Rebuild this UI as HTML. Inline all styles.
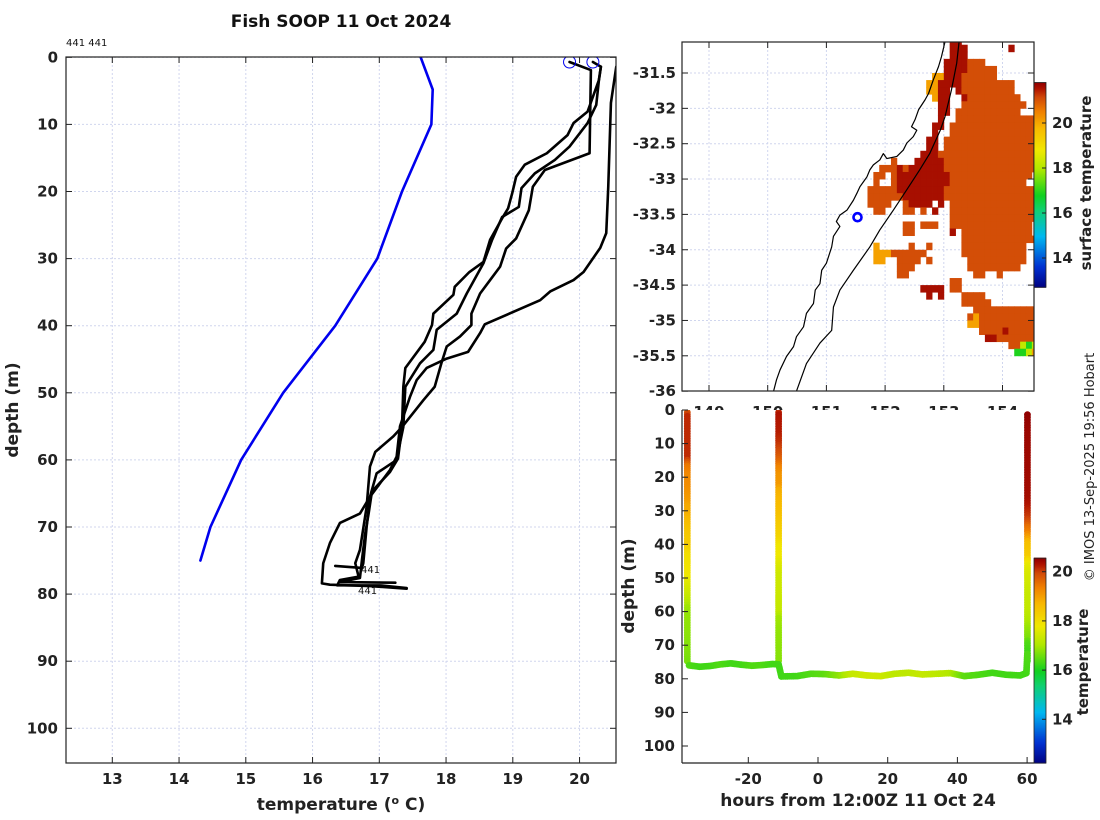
<!DOCTYPE html>
<html><head><meta charset="utf-8"><style>
body{margin:0;background:#fff;}
svg{display:block;font-family:"DejaVu Sans","Liberation Sans",sans-serif;}
.tk{font-size:15px;font-weight:bold;fill:#222;}
.lab{font-size:17px;font-weight:bold;fill:#222;}
</style></head><body>
<svg id="fig" width="1100" height="820" viewBox="0 0 1100 820" xmlns="http://www.w3.org/2000/svg">
<defs>
<clipPath id="clipL"><rect x="66" y="57" width="550" height="706"/></clipPath>
<clipPath id="clipM"><rect x="682" y="42" width="352" height="349"/></clipPath>
<clipPath id="clipB"><rect x="682" y="410" width="352" height="353"/></clipPath>
</defs>
<text x="341" y="27" text-anchor="middle" style="font-size:17px;font-weight:bold;fill:#111">Fish SOOP 11 Oct 2024</text>
<text x="66" y="46" style="font-size:10px;fill:#111">441 441</text>
<g id="left"></g>
<g id="map"></g>
<g id="bot"></g>
<text transform="translate(18,410) rotate(-90)" text-anchor="middle" class="lab">depth (m)</text>
<text x="341" y="810" text-anchor="middle" class="lab">temperature (<tspan dy="-6" style="font-size:11px">o</tspan><tspan dy="6"> C)</tspan></text>
<text transform="translate(634,586) rotate(-90)" text-anchor="middle" class="lab">depth (m)</text>
<text x="858" y="806" text-anchor="middle" class="lab">hours from 12:00Z 11 Oct 24</text>
<text transform="translate(1091,183) rotate(-90)" text-anchor="middle" style="font-size:15px;font-weight:bold;fill:#222">surface temperature</text>
<text transform="translate(1088,662) rotate(-90)" text-anchor="middle" style="font-size:15px;font-weight:bold;fill:#222">temperature</text>
<text transform="translate(1094,467) rotate(-90)" text-anchor="middle" style="font-size:13px;fill:#222">© IMOS 13-Sep-2025 19:56 Hobart</text>
</svg>
<script>
// ---------- data ----------
const climTemp=[17.62,17.80,17.78,17.34,16.97,16.34,15.56,14.93,14.47,14.32];
const climDepth=[0,4.8,10,20,30,40,50,60,70,75];
const profATemp=[20.55,20.47,20.43,20.40,20.31,20.06,19.91,19.56,19.41,18.58,18.51,18.33,18.01,17.71,17.56,17.46,17.31,17.26,17.16,16.86,16.71,16.41,16.26,16.16,16.14,16.26,16.86,17.41];
const profADepth=[1.4,6.8,19.3,26.2,28.4,32.0,33.2,34.9,36.2,39.8,41.1,43.9,44.9,46.3,48.1,50.6,55.0,59.5,61.5,65.5,68.0,69.4,72.4,75.4,78.4,78.6,78.8,79.2];
const profBTemp=[19.85,20.17,20.15,19.48,19.30,19.24,19.05,18.90,18.81,18.66,18.51,18.38,18.38,18.21,18.01,17.93,17.83,17.66,17.34,17.21,16.94,16.86,16.81,16.71,16.64,16.69,16.41,16.37,17.01,17.41];
const profBDepth=[0.7,1.9,14.3,16.8,19.3,22.8,27.0,28.5,31.2,33.2,35.2,38.2,39.9,41.6,43.1,45.6,49.1,51.1,55.1,56.5,58.8,61.0,67.0,73.4,75.4,77.4,77.9,78.7,78.7,79.1];
const profCTemp=[20.20,20.32,20.29,20.25,20.12,19.85,19.63,19.33,19.13,19.09,18.84,18.69,18.56,18.31,18.16,17.86,17.81,17.61,17.39,17.36,17.31,17.26,16.96,16.86,16.81,16.76,16.74,16.34];
const profCDepth=[0.7,1.4,3.4,7.1,9.8,13.3,15.3,17.3,19.5,22.3,23.8,27.2,30.7,35.2,38.2,40.6,43.6,45.6,49.1,55.1,57.5,60.0,62.0,65.5,70.0,75.4,76.1,75.8];
const profDTemp=[20.32,20.29,20.12,19.91,19.82,19.51,19.18,19.05,18.99,18.93,18.84,18.66,18.56,18.35,18.13,18.11,17.81,17.79,17.68,17.39,17.36,17.34,17.28,17.16,16.89,16.84,16.79,16.74,16.71,16.41,17.24];
const profDDepth=[1.4,3.4,8.1,9.8,11.6,14.3,16.0,17.8,20.3,22.5,24.0,27.2,30.5,32.0,34.2,35.4,38.2,39.9,42.4,46.3,49.1,55.1,59.8,61.8,64.7,68.0,70.9,74.9,77.6,78.2,78.3];
const startTemp=[19.85,20.20];
const startDepth=[0.7,0.7];
const leftXTicks=[13,14,15,16,17,18,19,20];
const leftYTicks=[0,10,20,30,40,50,60,70,80,90,100];

const coastLon=[153.02,152.96,152.91,152.82,152.74,152.68,152.57,152.51,152.45,152.54,152.48,152.37,152.31,152.20,152.03,151.97,151.91,151.80,151.74,151.69,151.63,151.57,151.52,151.46,151.35,151.23,151.17,151.23,151.12,151.09,151.00,150.92,150.89,150.81,150.78,150.66,150.61,150.49,150.44,150.32,150.21,150.15,150.10];
const coastLat=[-31.06,-31.27,-31.41,-31.60,-31.79,-31.88,-32.02,-32.16,-32.26,-32.31,-32.40,-32.49,-32.59,-32.68,-32.71,-32.64,-32.73,-32.80,-32.87,-32.97,-33.04,-33.11,-33.20,-33.30,-33.44,-33.51,-33.60,-33.67,-33.81,-33.96,-34.19,-34.29,-34.48,-34.57,-34.76,-34.90,-35.09,-35.23,-35.37,-35.51,-35.70,-35.84,-36.0];
const isoLon=[153.26,153.22,153.13,153.02,152.94,152.76,152.59,152.37,152.14,151.91,151.74,151.46,151.23,151.12,151.09,150.89,150.66,150.49];
const isoLat=[-31.06,-31.36,-31.74,-32.12,-32.31,-32.64,-32.87,-33.15,-33.44,-33.72,-33.96,-34.29,-34.57,-34.81,-35.14,-35.32,-35.61,-36.0];
const shipLon=[151.53], shipLat=[-33.54];
const sstLon0=151.5, sstLat0=-31.0, sstStep=0.1;
const sstCodes={R:21.6,o:21.1,y:20.1,l:18.2,g:16.9};
const sstRows=[
"................RR.............",
"................RRR.......R....",
"................RRR............",
"...............RRRRooo.........",
"...............RRRRooooo.......",
".............yyRRRoooooo.......",
"............yyRRRRooooooooo....",
"............yyRR.Rooooooooo....",
".............yRR..Rooooooooo...",
"..............RR..ooooooooooo..",
"..............RR.ooooooooooo...",
"..............R..oooooooooooooo",
".............RR.ooooooooooooooo",
".............R..ooooooooooooooo",
"............RR.oooooooooooooooo",
"............RR.oooooooooooooooo",
"...........RRRooooooooooooooooo",
"......o...RRRRRoooooooooooooooo",
"....oooRoRRRRRRoooooooooooooooo",
"...oo.oRRRRRRRRRoooooooooooooo.",
"...o..oRRRRRRRRRooooooooooooo..",
"..oooooRRRRRRRRoooooooooooooooo",
"..ooooooRRRRRRRoooooooooooooooo",
"..oooo..oRRRR.R.ooooooooooooooo",
"...oo...oo.o.R..ooooooooooooooo",
"................ooooooooooooooo",
"........oo.ooo..oooooooooooooo.",
"........oo......R.oooooooooooo.",
"..................ooooooooooooo",
"...y.....o..o.....ooooooooooo..",
"...yyyoooooo......ooooooooooo..",
"...yy..oooo.o......oooooooooo..",
".......ooo.........ooooooooo...",
".......oo...........oo..o......",
"................oo.............",
"...........RRRR.oo.............",
"............R.R...oooo.........",
"..................ooooo........",
"....................ooooooooooo",
"...................oyoooooooooo",
"...................yyoooooooooo",
".....................ooooRooooo",
"......................RRooooooo",
"..........................oolgl",
"...........................ggly"];
const mapLonTicks=[149,150,151,152,153,154];
const mapLatTicks=[-31.5,-32,-32.5,-33,-33.5,-34,-34.5,-35,-35.5,-36];
const mapCbarTicks=[14,16,18,20];

const castHours=[-37.5,-11.3,60.1];
const seg1Hours=[-37,-34,-31,-28,-25,-22,-19,-16,-13,-11];
const seg1Depth=[76,76.4,76.2,75.7,75.4,75.8,76.1,75.9,75.6,75.7];
const seg1Temp=[16.4,16.3,16.3,16.4,16.3,16.3,16.4,16.4,16.3,16.3];
const seg2Hours=[-10.5,-6,-2,2,6,10,14,18,22,26,30,34,38,42,46,50,54,58,59.8];
const seg2Depth=[79.3,79.2,78.5,78.6,79.0,78.5,79.0,79.2,78.5,78.2,78.7,78.5,78.3,79.2,78.8,78.2,78.8,79.0,78.3];
const seg2Temp=[16.3,16.3,16.4,16.5,16.8,17.3,17.4,17.4,17.2,17.2,17.3,17.2,17.1,16.5,16.4,16.3,16.3,16.3,16.3];
const botXTicks=[-20,0,20,40,60];
const botYTicks=[0,10,20,30,40,50,60,70,80,90,100];
const botCbarTicks=[14,16,18,20];

// ---------- helpers ----------
const NS="http://www.w3.org/2000/svg";
function mk(parent,tag,attrs){const e=document.createElementNS(NS,tag);for(const k in attrs)e.setAttribute(k,attrs[k]);parent.appendChild(e);return e;}
const xT=t=>112.3+(t-13)*66.75, yD=d=>57.3+d*6.71;
const xLon=l=>709+(l-149)*58.7, yLat=l=>73+(-31.5-l)*70.7;
const xH=h=>818+h*3.485, yB=d=>410+d*3.36;
const cmStops=[[0,[0,0,128]],[0.1,[0,48,208]],[0.25,[0,184,240]],[0.38,[16,208,112]],[0.45,[16,208,32]],[0.58,[176,232,0]],[0.67,[240,232,0]],[0.78,[248,184,0]],[0.86,[240,128,0]],[0.93,[208,72,8]],[0.97,[176,20,0]],[1,[144,0,0]]];
function cmap(f){f=Math.max(0,Math.min(1,f));for(let i=1;i<cmStops.length;i++){if(f<=cmStops[i][0]){const a=cmStops[i-1],b=cmStops[i];const u=(f-a[0])/(b[0]-a[0]);const c=a[1].map((v,j)=>Math.round(v+(b[1][j]-v)*u));return `rgb(${c[0]},${c[1]},${c[2]})`;}}return "rgb(144,0,0)";}
const mapClim=[12.7,21.8], botClim=[12.22,20.55];
const colM=v=>cmap((v-mapClim[0])/(mapClim[1]-mapClim[0]));
const colB=v=>cmap((v-botClim[0])/(botClim[1]-botClim[0]));
function txt(p,x,y,s,anchor,cls){const t=mk(p,'text',{x:x,y:y,'text-anchor':anchor,class:cls||'tk'});t.textContent=s;return t;}

// ---------- left profile plot ----------
const L=document.getElementById('left');
const lg=mk(L,'g',{});


leftXTicks.forEach(t=>{mk(lg,'line',{x1:xT(t),x2:xT(t),y1:57,y2:763,stroke:'#d0d6ee','stroke-width':1,'stroke-dasharray':'2,2'});});
leftYTicks.forEach(d=>{mk(lg,'line',{x1:66,x2:616,y1:yD(d),y2:yD(d),stroke:'#d0d6ee','stroke-width':1,'stroke-dasharray':'2,2'});});
leftXTicks.forEach(t=>{mk(L,'line',{x1:xT(t),x2:xT(t),y1:763,y2:757,stroke:'#222'});mk(L,'line',{x1:xT(t),x2:xT(t),y1:57,y2:63,stroke:'#222'});
 const e=txt(L,xT(t),784,String(t),'middle');});
leftYTicks.forEach(d=>{mk(L,'line',{x1:66,x2:72,y1:yD(d),y2:yD(d),stroke:'#222'});mk(L,'line',{x1:616,x2:610,y1:yD(d),y2:yD(d),stroke:'#222'});
 const e=txt(L,58,yD(d)+5,String(d),'end');});
const lp=mk(L,'g',{'clip-path':'url(#clipL)'});
function poly(p,xs,ys,fx,fy,attrs){return mk(p,'polyline',Object.assign({points:xs.map((v,i)=>fx(v)+','+fy(ys[i])).join(' '),fill:'none','stroke-linejoin':'round','stroke-linecap':'round'},attrs));}
const cl=poly(lp,climTemp,climDepth,xT,yD,{stroke:'#0000ee','stroke-width':2.6});


[[profATemp,profADepth,'profile-a'],[profBTemp,profBDepth,'profile-b'],[profCTemp,profCDepth,'profile-c'],[profDTemp,profDDepth,'profile-d']].forEach(p=>{
 const e=poly(lp,p[0],p[1],xT,yD,{stroke:'#000','stroke-width':2.6});
 
 
});
startTemp.forEach((t,i)=>{const c=mk(lp,'circle',{cx:xT(t),cy:yD(startDepth[i]),r:6,fill:'none',stroke:'#0000ee','stroke-width':1});
 
 });
mk(L,'rect',{x:66,y:57,width:550,height:706,fill:'none',stroke:'#222','stroke-width':1.2});
[[361,573],[358,594]].forEach(p=>{const t=mk(L,'text',{x:p[0],y:p[1],style:'font-size:10px;fill:#111'});t.textContent='441';
 
 });

// ---------- map ----------
const M=document.getElementById('map');
const mg=mk(M,'g',{'clip-path':'url(#clipM)'});
mapLonTicks.forEach(l=>mk(mg,'line',{x1:xLon(l),x2:xLon(l),y1:42,y2:391,stroke:'#d0d6ee','stroke-dasharray':'2,2'}));
mapLatTicks.forEach(l=>mk(mg,'line',{x1:682,x2:1034,y1:yLat(l),y2:yLat(l),stroke:'#d0d6ee','stroke-dasharray':'2,2'}));
const cw=xLon(sstLon0+sstStep)-xLon(sstLon0), ch=yLat(sstLat0-sstStep)-yLat(sstLat0);
sstRows.forEach((row,r)=>{for(let c=0;c<row.length;c++){const k=row[c];if(!(k in sstCodes))continue;
 const e=mk(mg,'rect',{x:xLon(sstLon0+c*sstStep),y:yLat(sstLat0-r*sstStep),width:cw+0.4,height:ch+0.4,fill:colM(sstCodes[k])});
 
 }});
const co=poly(mg,coastLon,coastLat,xLon,yLat,{stroke:'#000','stroke-width':1.2});


const iso=poly(mg,isoLon,isoLat,xLon,yLat,{stroke:'#000','stroke-width':1.2});


shipLon.forEach((l,i)=>{const c=mk(mg,'circle',{cx:xLon(l),cy:yLat(shipLat[i]),r:4,fill:'none',stroke:'#0000ff','stroke-width':2.6});
 
 });
mapLonTicks.forEach(l=>{mk(M,'line',{x1:xLon(l),x2:xLon(l),y1:391,y2:385,stroke:'#222'});mk(M,'line',{x1:xLon(l),x2:xLon(l),y1:42,y2:48,stroke:'#222'});
 const e=txt(M,xLon(l),417,String(l),'middle');});
mapLatTicks.forEach(l=>{mk(M,'line',{x1:682,x2:688,y1:yLat(l),y2:yLat(l),stroke:'#222'});mk(M,'line',{x1:1034,x2:1028,y1:yLat(l),y2:yLat(l),stroke:'#222'});
 const e=txt(M,676,yLat(l)+5,String(l),'end');});
mk(M,'rect',{x:682,y:42,width:352,height:349,fill:'none',stroke:'#222','stroke-width':1.2});
// map colorbar
const mcb=mk(M,'g',{});


const cbY=v=>123+(20-v)*22.5;
for(let v=mapClim[0];v<mapClim[1];v+=0.05){mk(mcb,'rect',{x:1034,y:cbY(v+0.05),width:12,height:22.5*0.05+0.5,fill:colM(v+0.025)});}
mk(mcb,'rect',{x:1034,y:cbY(mapClim[1]),width:12,height:cbY(mapClim[0])-cbY(mapClim[1]),fill:'none',stroke:'#222','stroke-width':0.8});
mapCbarTicks.forEach(v=>{mk(mcb,'line',{x1:1046,x2:1042,y1:cbY(v),y2:cbY(v),stroke:'#222'});const e=txt(mcb,1052,cbY(v)+5,String(v),'start');});

// ---------- bottom time-depth plot ----------
const B=document.getElementById('bot');
mk(B,'rect',{x:682,y:410,width:352,height:353,fill:'#fff'});
const bp=mk(B,'g',{'clip-path':'url(#clipB)'});
function dotsAlong(xs,ys,ts,fx,fy,step){
 for(let i=0;i<xs.length-1;i++){const x0=fx(xs[i]),y0=fy(ys[i]),x1=fx(xs[i+1]),y1=fy(ys[i+1]);
  const n=Math.max(1,Math.ceil(Math.hypot(x1-x0,y1-y0)/step));
  for(let k=0;k<n;k++){const u=k/n;const c=mk(bp,'circle',{cx:x0+(x1-x0)*u,cy:y0+(y1-y0)*u,r:3.4,fill:colB(ts[i]+(ts[i+1]-ts[i])*u)});
   
   }}
}
const casts=[[profBTemp,profBDepth],[profCTemp,profCDepth],[profATemp,profADepth]];
casts.forEach((p,i)=>{
 const n=p[1].findIndex(d=>d>=74); const last=n<0?p[1].length:n+1;
 const ds=p[1].slice(0,last), ts=p[0].slice(0,last), hs=ds.map(()=>castHours[i]);
 dotsAlong(hs,ds,ts,xH,yB,2.6);
});
dotsAlong(seg1Hours,seg1Depth,seg1Temp,xH,yB,2);
dotsAlong([castHours[1],seg2Hours[0]],[seg1Depth[seg1Depth.length-1],seg2Depth[0]],[seg1Temp[seg1Temp.length-1],seg2Temp[0]],xH,yB,2);
dotsAlong(seg2Hours,seg2Depth,seg2Temp,xH,yB,2);
dotsAlong([seg2Hours[seg2Hours.length-1],castHours[2]],[seg2Depth[seg2Depth.length-1],72],[seg2Temp[seg2Temp.length-1],16.4],xH,yB,2);
botXTicks.forEach(h=>{mk(B,'line',{x1:xH(h),x2:xH(h),y1:763,y2:757,stroke:'#222'});
 const e=txt(B,xH(h),784,String(h),'middle');});
botYTicks.forEach(d=>{mk(B,'line',{x1:682,x2:688,y1:yB(d),y2:yB(d),stroke:'#222'});
 const e=txt(B,675,yB(d)+5,String(d),'end');});
mk(B,'line',{x1:682,x2:682,y1:410,y2:763,stroke:'#222','stroke-width':1.2});
mk(B,'line',{x1:682,x2:1034,y1:763,y2:763,stroke:'#222','stroke-width':1.2});
const bcb=mk(B,'g',{});


const bY=v=>571.7+(20-v)*24.6;
for(let v=botClim[0];v<botClim[1];v+=0.05){mk(bcb,'rect',{x:1034,y:bY(v+0.05),width:12,height:24.6*0.05+0.5,fill:colB(v+0.025)});}
mk(bcb,'rect',{x:1034,y:bY(botClim[1]),width:12,height:bY(botClim[0])-bY(botClim[1]),fill:'none',stroke:'#222','stroke-width':0.8});
botCbarTicks.forEach(v=>{mk(bcb,'line',{x1:1046,x2:1042,y1:bY(v),y2:bY(v),stroke:'#222'});const e=txt(bcb,1052,bY(v)+5,String(v),'start');});
</script>
</body></html>
